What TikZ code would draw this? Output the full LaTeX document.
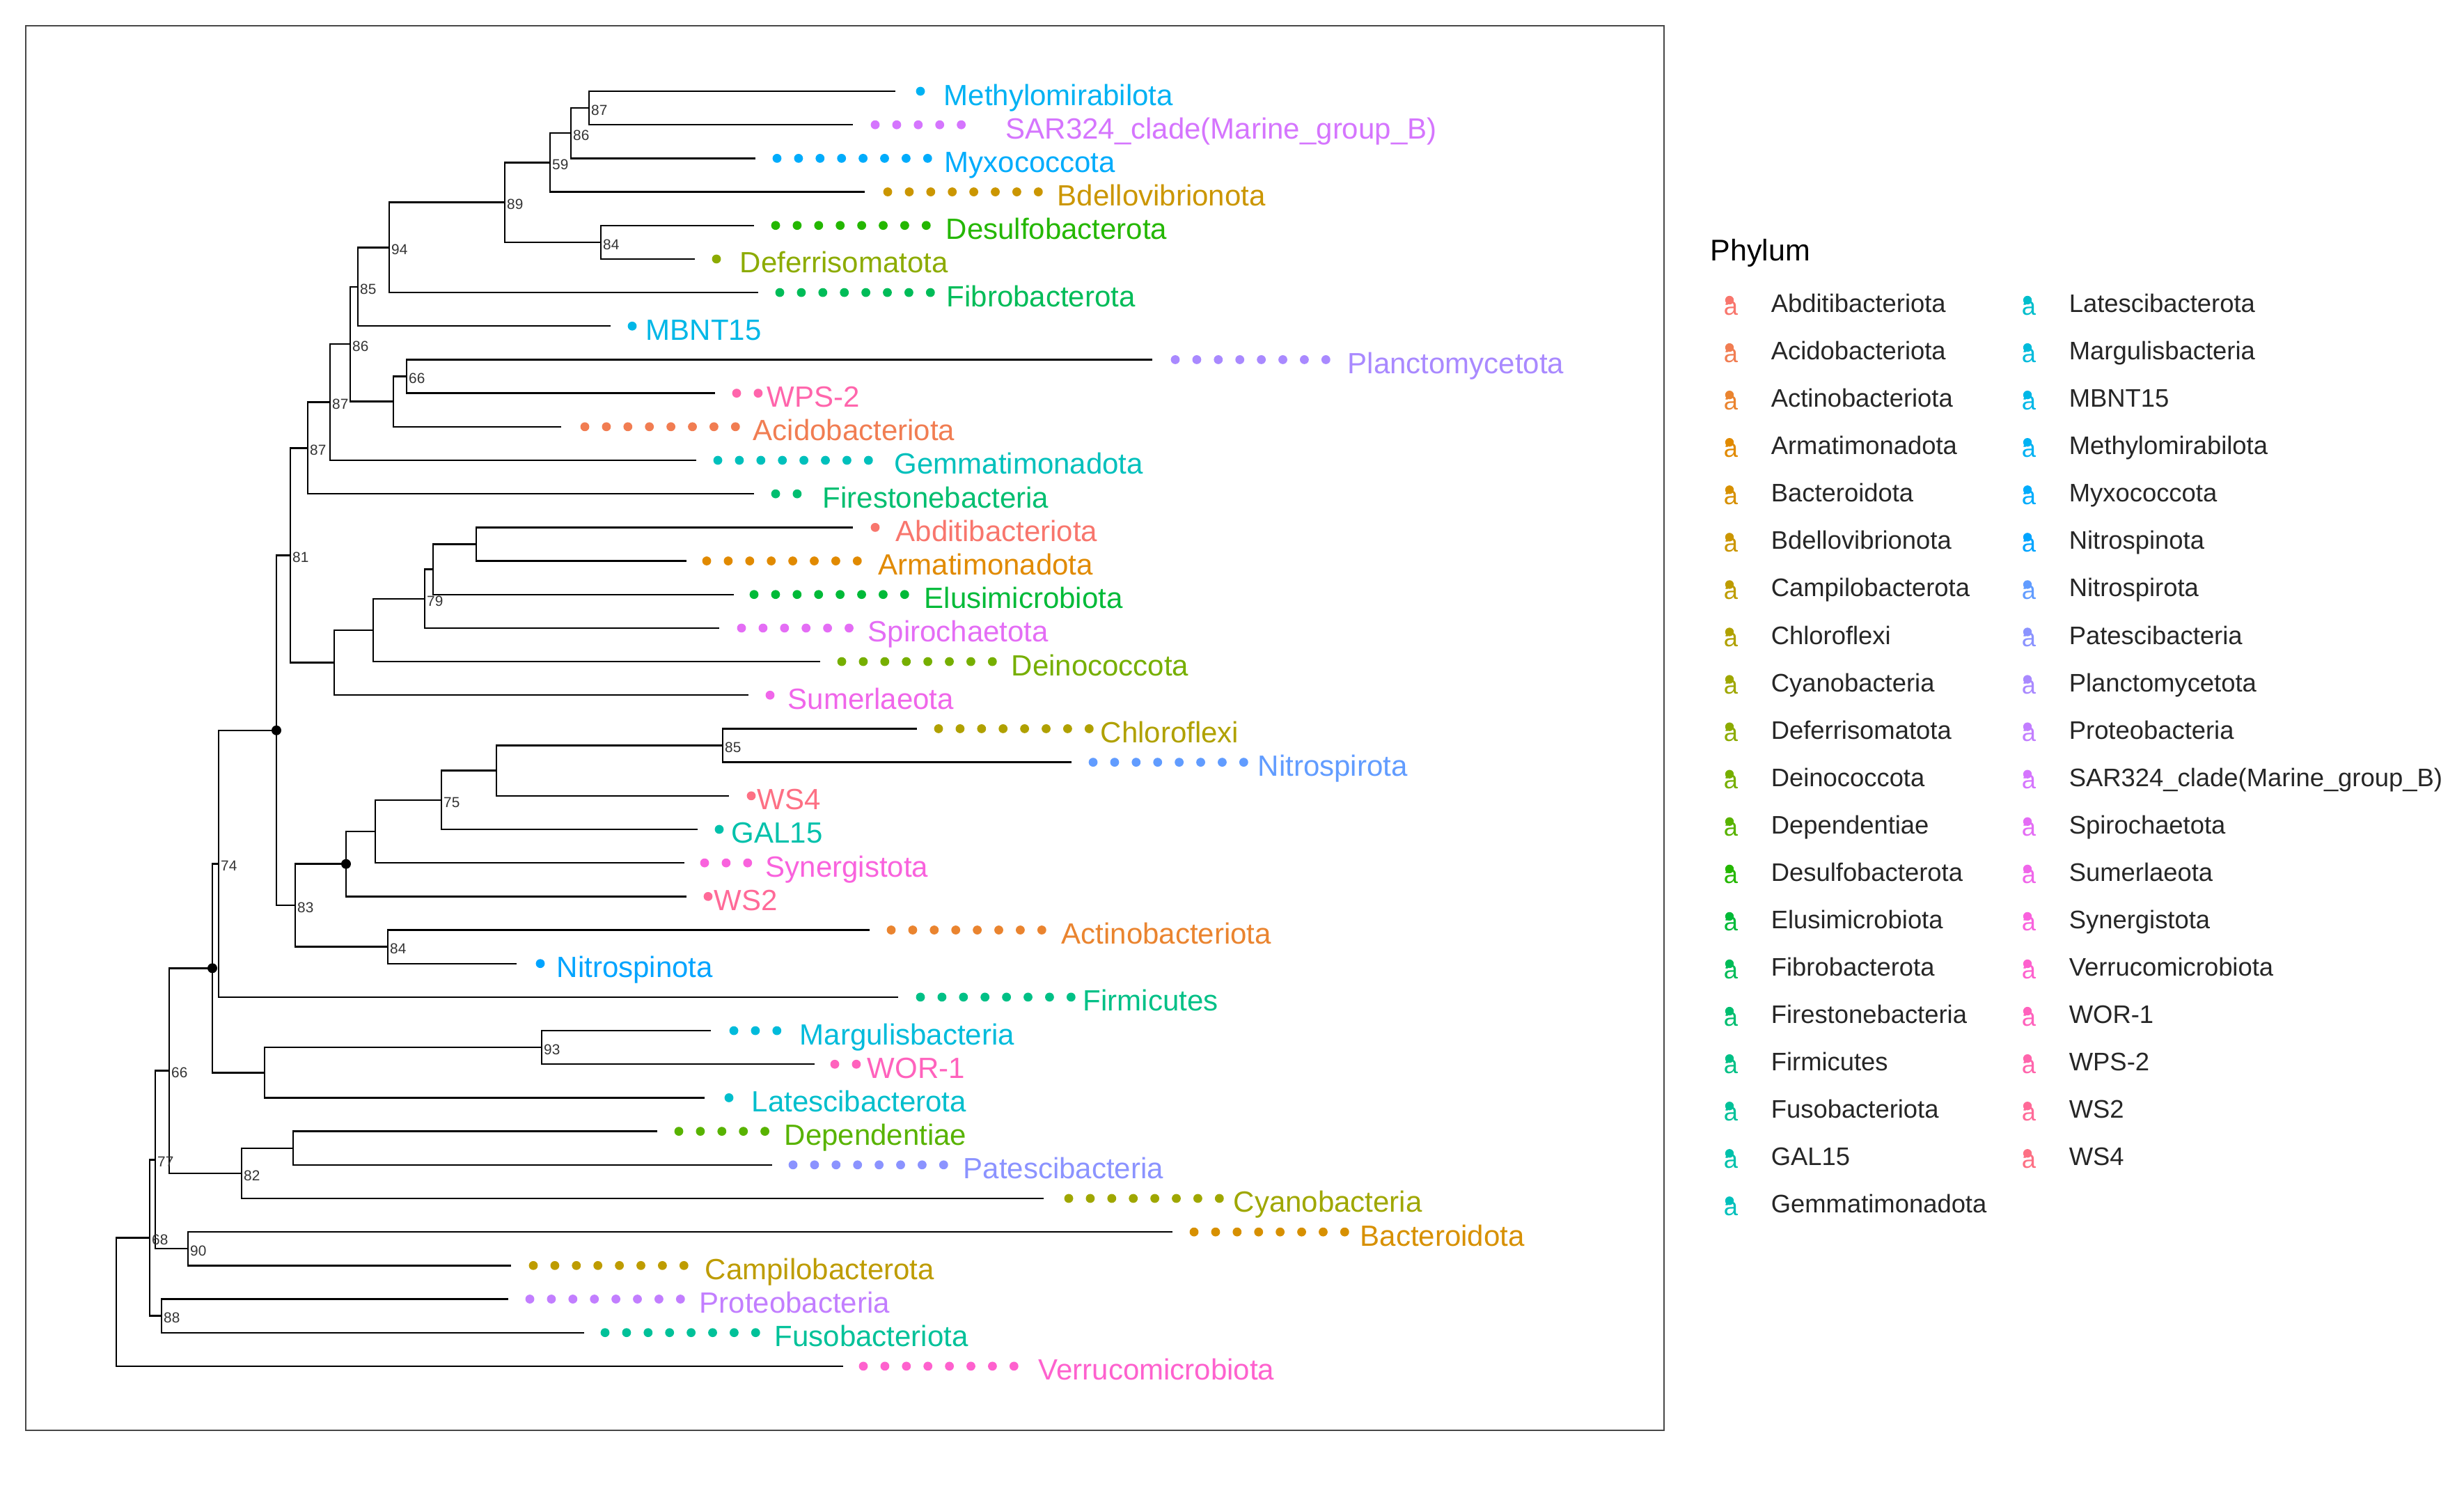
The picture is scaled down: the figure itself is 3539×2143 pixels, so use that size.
\documentclass[tikz,border=0pt]{standalone}
\usepackage{fontspec}
\setmainfont{Liberation Sans}
\ExplSyntaxOn
\fp_new:N \l_hc_u_fp
\fp_new:N \l_hc_v_fp
\fp_new:N \l_hc_x_fp
\fp_new:N \l_hc_y_fp
\fp_new:N \l_hc_z_fp
\fp_new:N \l_hc_r_fp
\fp_new:N \l_hc_g_fp
\fp_new:N \l_hc_b_fp
\cs_new:Npn \hc_gam:n #1 { max(0, min(1, 1.055 * (max(#1, 0))^(1/2.4) - 0.055)) }
\cs_new_protected:Npn \hc_define:nn #1 #2
 {
  \fp_set:Nn \l_hc_u_fp { 100 * cosd(#2) / 845 + 0.1978398 }
  \fp_set:Nn \l_hc_v_fp { 100 * sind(#2) / 845 + 0.4683363 }
  \fp_set:Nn \l_hc_y_fp { (81/116)^3 }
  \fp_set:Nn \l_hc_x_fp { \l_hc_y_fp * 9 * \l_hc_u_fp / (4 * \l_hc_v_fp) }
  \fp_set:Nn \l_hc_z_fp { \l_hc_y_fp * (12 - 3 * \l_hc_u_fp - 20 * \l_hc_v_fp) / (4 * \l_hc_v_fp) }
  \fp_set:Nn \l_hc_r_fp { 3.240479 * \l_hc_x_fp - 1.537150 * \l_hc_y_fp - 0.498535 * \l_hc_z_fp }
  \fp_set:Nn \l_hc_g_fp { -0.969256 * \l_hc_x_fp + 1.875992 * \l_hc_y_fp + 0.041556 * \l_hc_z_fp }
  \fp_set:Nn \l_hc_b_fp { 0.055648 * \l_hc_x_fp - 0.204043 * \l_hc_y_fp + 1.057311 * \l_hc_z_fp }
  \use:e
   {
    \exp_not:N \definecolor {#1} {rgb}
     {
      \fp_eval:n { round( \hc_gam:n { \l_hc_r_fp } , 4) } ,
      \fp_eval:n { round( \hc_gam:n { \l_hc_g_fp } , 4) } ,
      \fp_eval:n { round( \hc_gam:n { \l_hc_b_fp } , 4) }
     }
   }
 }
\int_step_inline:nnn { 1 } { 39 }
 { \hc_define:nn { pc#1 } { 15 + (#1 - 1) * 360 / 39 } }
\ExplSyntaxOff
\tikzset{
  treeline/.style={line width=0.6pt, black},
  tiplab/.style={anchor=base west, inner sep=0pt, font=\fontsize{10.5}{12}\selectfont},
  bootlab/.style={anchor=west, inner sep=0pt, font=\fontsize{5.2}{6}\selectfont, text=black!80, xshift=0.6pt, yshift=-0.8pt},
  legtext/.style={anchor=base west, inner sep=0pt, font=\fontsize{9.1}{11}\selectfont, text=black!85},
  legicon/.style={anchor=base, inner sep=0pt, font=\fontsize{9.1}{11}\selectfont},
}
\begin{document}
\begin{tikzpicture}[x=0.25pt,y=-0.25pt]
\fill[white] (0,0) rectangle (3539,2143);
\useasboundingbox (0,0) rectangle (3539,2143);
\draw[black!72, line width=0.5pt] (37,37) rectangle (2390,2054);

% tips: index/name/colour/line end/first dot/dots/text x
\foreach \i/\nm/\cc/\ex/\dx/\nd/\tx in {
 1/Methylomirabilota/24/1286/1322/1/1355,
 2/{SAR324\_clade(Marine\_group\_B)}/31/1225/1257/5/1444,
 3/Myxococcota/25/1085/1116/8/1356,
 4/Bdellovibrionota/6/1242/1275/8/1518,
 5/Desulfobacterota/13/1083/1114/8/1358,
 6/Deferrisomatota/10/998/1029/1/1062,
 7/Fibrobacterota/15/1089/1120/8/1359,
 8/MBNT15/23/877/908/1/927,
 9/Planctomycetota/29/1655/1688/8/1935,
 10/WPS-2/37/1027/1058/2/1101,
 11/Acidobacteriota/2/806/840/8/1081,
 12/Gemmatimonadota/20/1000/1031/8/1284,
 13/Firestonebacteria/16/1083/1114/2/1181,
 14/Abditibacteriota/1/1225/1257/1/1286,
 15/Armatimonadota/4/986/1015/8/1261,
 16/Elusimicrobiota/14/1054/1083/8/1327,
 17/Spirochaetota/32/1033/1065/6/1246,
 18/Deinococcota/11/1178/1209/8/1452,
 19/Sumerlaeota/33/1075/1106/1/1131,
 20/Chloroflexi/8/1317/1348/8/1580,
 21/Nitrospirota/27/1539/1570/8/1806,
 22/WS4/39/1047/1079/1/1087,
 23/GAL15/19/1002/1033/1/1050,
 24/Synergistota/34/983/1012/3/1099,
 25/WS2/38/986/1017/1/1025,
 26/Actinobacteriota/3/1249/1280/8/1524,
 27/Nitrospinota/26/742/776/1/799,
 28/Firmicutes/17/1290/1322/8/1555,
 29/Margulisbacteria/22/1021/1054/3/1148,
 30/WOR-1/36/1170/1199/2/1245,
 31/Latescibacterota/21/1012/1047/1/1079,
 32/Dependentiae/12/944/975/5/1126,
 33/Patescibacteria/28/1109/1139/8/1383,
 34/Cyanobacteria/9/1499/1535/8/1771,
 35/Bacteroidota/5/1684/1715/8/1953,
 36/Campilobacterota/7/734/766/8/1012,
 37/Proteobacteria/30/730/761/8/1004,
 38/Fusobacteriota/18/839/869/8/1112,
 39/Verrucomicrobiota/35/1211/1240/8/1491}
{
  \coordinate (t\i) at (\ex,{131+48.18*(\i-1)});
  \foreach \k in {1,...,\nd}
    \fill[pc\cc] ({\dx+30.9*(\k-1)},{131+48.18*(\i-1)}) circle[radius=1.6pt];
  \node[tiplab, text=pc\cc] (lab\i) at (\tx,{151+48.18*(\i-1)}) {\nm};
}

% internal nodes
\coordinate (n87a) at (846,155.09);
\coordinate (n86a) at (820,191.23);
\coordinate (n59) at (790,233.38);
\coordinate (n84a) at (863,347.81);
\coordinate (n89) at (725,290.6);
\coordinate (n94) at (559,355.34);
\coordinate (n85a) at (514,411.8);
\coordinate (n66a) at (584,540.53);
\coordinate (nX) at (565,576.67);
\coordinate (n86b) at (503,494.24);
\coordinate (n87b) at (474,577.61);
\coordinate (n87c) at (442,643.39);
\coordinate (nab) at (684,781.43);
\coordinate (ne) at (622,817.57);
\coordinate (n79) at (610,859.73);
\coordinate (nd) at (536,904.9);
\coordinate (ns) at (480,951.57);
\coordinate (n81) at (417,797.48);
\coordinate (n85b) at (1038,1070.51);
\coordinate (nw4) at (713,1106.65);
\coordinate (n75) at (634,1148.81);
\coordinate (nsyn) at (539,1193.98);
\coordinate (ndot2) at (497,1240.65);
\coordinate (n84b) at (557,1359.59);
\coordinate (n83) at (424,1300.12);
\coordinate (ndot1) at (397,1048.8);
\coordinate (n74) at (314,1240.33);
\coordinate (n93) at (778,1504.13);
\coordinate (nlat) at (380,1540.27);
\coordinate (ndot3) at (305,1390.3);
\coordinate (ndp) at (421,1648.67);
\coordinate (n82) at (347,1684.81);
\coordinate (n66b) at (243,1537.56);
\coordinate (n90) at (270,1793.21);
\coordinate (n77) at (223,1665.39);
\coordinate (n88) at (232,1889.57);
\coordinate (n68) at (215,1777.48);
\coordinate (root) at (167,1869.66);

\foreach \p/\c in {n87a/t1, n87a/t2, n86a/n87a, n86a/t3, n59/n86a, n59/t4,
  n84a/t5, n84a/t6, n89/n59, n89/n84a, n94/n89, n94/t7, n85a/n94, n85a/t8,
  n66a/t9, n66a/t10, nX/n66a, nX/t11, n86b/n85a, n86b/nX, n87b/n86b, n87b/t12,
  n87c/n87b, n87c/t13, nab/t14, nab/t15, ne/nab, ne/t16, n79/ne, n79/t17,
  nd/n79, nd/t18, ns/nd, ns/t19, n81/n87c, n81/ns,
  n85b/t20, n85b/t21, nw4/n85b, nw4/t22, n75/nw4, n75/t23, nsyn/n75, nsyn/t24,
  ndot2/nsyn, ndot2/t25, n84b/t26, n84b/t27, n83/ndot2, n83/n84b,
  ndot1/n81, ndot1/n83, n74/ndot1, n74/t28, n93/t29, n93/t30, nlat/n93, nlat/t31,
  ndot3/n74, ndot3/nlat, ndp/t32, ndp/t33, n82/ndp, n82/t34, n66b/ndot3, n66b/n82,
  n90/t35, n90/t36, n77/n66b, n77/n90, n88/t37, n88/t38, n68/n77, n68/n88,
  root/n68, root/t39}
  \draw[treeline] (\p) |- (\c);

\foreach \n in {ndot1,ndot2,ndot3}
  \fill[black] (\n) circle[radius=1.75pt];

% bootstrap values
\foreach \n/\v in {n87a/87, n86a/86, n59/59, n89/89, n84a/84, n94/94, n85a/85,
  n86b/86, n66a/66, n87b/87, n87c/87, n81/81, n79/79, n85b/85, n75/75, n83/83,
  n84b/84, n74/74, n93/93, n66b/66, n77/77, n82/82, n68/68, n90/90, n88/88}
  \node[bootlab] (bs-\n) at (\n) {\v};

% legend
\node[anchor=base west, inner sep=0pt, font=\fontsize{10.75}{13}\selectfont] (legtitle) at (2456,374) {Phylum};
\foreach \j/\nm in {1/Abditibacteriota, 2/Acidobacteriota, 3/Actinobacteriota,
  4/Armatimonadota, 5/Bacteroidota, 6/Bdellovibrionota, 7/Campilobacterota,
  8/Chloroflexi, 9/Cyanobacteria, 10/Deferrisomatota, 11/Deinococcota,
  12/Dependentiae, 13/Desulfobacterota, 14/Elusimicrobiota, 15/Fibrobacterota,
  16/Firestonebacteria, 17/Firmicutes, 18/Fusobacteriota, 19/GAL15,
  20/Gemmatimonadota, 21/Latescibacterota, 22/Margulisbacteria, 23/MBNT15,
  24/Methylomirabilota, 25/Myxococcota, 26/Nitrospinota, 27/Nitrospirota,
  28/Patescibacteria, 29/Planctomycetota, 30/Proteobacteria,
  31/{SAR324\_clade(Marine\_group\_B)}, 32/Spirochaetota, 33/Sumerlaeota,
  34/Synergistota, 35/Verrucomicrobiota, 36/WOR-1, 37/WPS-2, 38/WS2, 39/WS4}
{
  \pgfmathsetmacro\rowy{436.5+68.07*(\j<=20 ? \j-1 : \j-21)}
  \pgfmathsetmacro\colx{\j<=20 ? 0 : 428}
  \fill[pc\j] ({2484+\colx},{\rowy-5.5}) circle[radius=1.55pt];
  \node[legicon, text=pc\j] (legico\j) at ({2486+\colx},{\rowy+15.5}) {a};
  \node[legtext] (legtxt\j) at ({2543+\colx},{\rowy+12}) {\nm};
}
\end{tikzpicture}
\end{document}
